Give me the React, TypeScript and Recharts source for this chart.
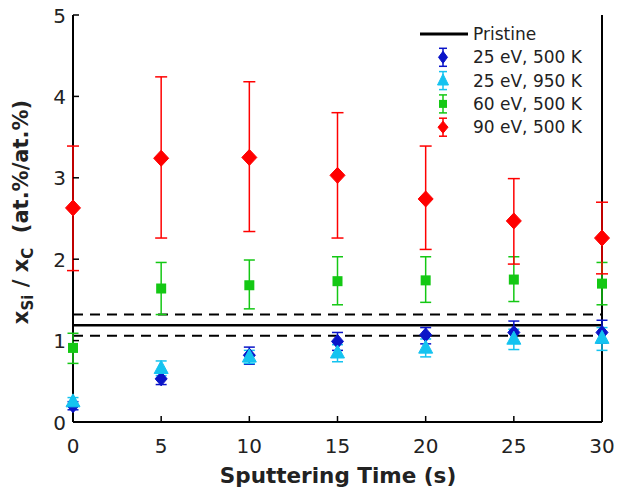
import React from 'react';
import { ComposedChart, Scatter, ErrorBar, XAxis, YAxis, ReferenceLine, Legend } from 'recharts';

const times = [0, 5, 10, 15, 20, 25, 30];
const xTicks = [0, 5, 10, 15, 20, 25, 30];
const yTicks = [0, 1, 2, 3, 4, 5];
const xMin = 0;
const xMax = 30;

const blueY = [0.2, 0.53, 0.82, 0.99, 1.07, 1.1, 1.1];
const blueLo = [0.15, 0.46, 0.71, 0.88, 0.96, 0.97, 0.97];
const blueHi = [0.25, 0.61, 0.92, 1.1, 1.16, 1.24, 1.25];

const cyanY = [0.25, 0.66, 0.8, 0.85, 0.91, 1.02, 1.03];
const cyanLo = [0.2, 0.57, 0.72, 0.74, 0.8, 0.89, 0.88];
const cyanHi = [0.3, 0.75, 0.88, 0.95, 1.02, 1.14, 1.16];

const greenY = [0.91, 1.64, 1.68, 1.73, 1.74, 1.75, 1.7];
const greenLo = [0.72, 1.32, 1.39, 1.44, 1.47, 1.48, 1.44];
const greenHi = [1.09, 1.96, 1.99, 2.03, 2.03, 2.03, 1.96];

const redY = [2.63, 3.24, 3.25, 3.03, 2.74, 2.47, 2.26];
const redLo = [1.86, 2.26, 2.34, 2.26, 2.12, 1.94, 1.82];
const redHi = [3.39, 4.24, 4.18, 3.8, 3.39, 2.99, 2.7];

const pristine = 1.19;
const pristineLow = 1.06;
const pristineHigh = 1.32;

const seriesNames = ['25 eV, 500 K', '25 eV, 950 K', '60 eV, 500 K', '90 eV, 500 K'];
const pristineName = 'Pristine';

const FONT = '"DejaVu Sans", sans-serif';
const BLUE = '#0a14c8';
const CYAN = '#14c3f0';
const GREEN = '#14c814';
const RED = '#ff0000';

const build = (ys: number[], lo: number[], hi: number[]) =>
  times.map((t, i) => ({ x: t, y: ys[i], err: [ys[i] - lo[i], hi[i] - ys[i]] }));

const blueData = build(blueY, blueLo, blueHi);
const cyanData = build(cyanY, cyanLo, cyanHi);
const greenData = build(greenY, greenLo, greenHi);
const redData = build(redY, redLo, redHi);

type MP = { cx?: number; cy?: number };

const diamond = (cx: number, cy: number, w: number, h: number, fill: string) => (
  <path d={`M${cx},${cy - h}L${cx + w},${cy}L${cx},${cy + h}L${cx - w},${cy}Z`} fill={fill} stroke={fill} strokeWidth={1} />
);
const triangle = (cx: number, cy: number, w: number, h: number, fill: string) => (
  <path d={`M${cx},${cy - h * 0.6}L${cx + w / 2},${cy + h * 0.4}L${cx - w / 2},${cy + h * 0.4}Z`} fill={fill} stroke={fill} strokeWidth={1} />
);
const square = (cx: number, cy: number, s: number, fill: string) => (
  <rect x={cx - s / 2} y={cy - s / 2} width={s} height={s} fill={fill} />
);

const BlueShape = (p: MP) => diamond(p.cx ?? 0, p.cy ?? 0, 6, 7, BLUE);
const CyanShape = (p: MP) => triangle(p.cx ?? 0, p.cy ?? 0, 14, 13, CYAN);
const GreenShape = (p: MP) => square(p.cx ?? 0, p.cy ?? 0, 10, GREEN);
const RedShape = (p: MP) => diamond(p.cx ?? 0, p.cy ?? 0, 7.5, 8, RED);

const BottomTick = (props: any) => {
  const { x, y, payload } = props;
  return (
    <g>
      <line x1={x} x2={x} y1={y} y2={y - 6} stroke="#000" strokeWidth={1.5} />
      <text x={x} y={y + 31} textAnchor="middle" fontSize={20} fontFamily={FONT} fill="#222">
        {payload.value}
      </text>
    </g>
  );
};
const TopTick = (props: any) => {
  const { x, y } = props;
  return <line x1={x} x2={x} y1={y} y2={y + 6} stroke="#000" strokeWidth={1.5} />;
};
const LeftTick = (props: any) => {
  const { x, y, payload } = props;
  return (
    <g>
      <line x1={x} x2={x + 6} y1={y} y2={y} stroke="#000" strokeWidth={1.5} />
      <text x={x - 7} y={y + 7.5} textAnchor="end" fontSize={20} fontFamily={FONT} fill="#222">
        {payload.value}
      </text>
    </g>
  );
};
const RightTick = (props: any) => {
  const { x, y } = props;
  return <line x1={x} x2={x - 6} y1={y} y2={y} stroke="#000" strokeWidth={1.5} />;
};

const XLabel = () => (
  <text x={338} y={483} textAnchor="middle" fontSize={21.5} fontWeight="bold" fontFamily={FONT} fill="#222">
    Sputtering Time (s)
  </text>
);

const YLabel = () => (
  <text
    transform="rotate(-90)"
    x={-212}
    y={28}
    textAnchor="middle"
    fontSize={21}
    fontWeight="bold"
    fontFamily={FONT}
    fill="#222"
  >
    x<tspan dy={5} fontSize={15}>Si</tspan>
    <tspan dy={-5}>{'\u00a0/\u00a0x'}</tspan>
    <tspan dy={5} fontSize={15}>C</tspan>
    <tspan dy={-5}>{'\u00a0\u00a0(at.%/at.%)'}</tspan>
  </text>
);

const legendMarkers = [
  (cx: number, cy: number) => diamond(cx, cy, 4.5, 6, BLUE),
  (cx: number, cy: number) => triangle(cx, cy, 11, 11, CYAN),
  (cx: number, cy: number) => square(cx, cy, 8, GREEN),
  (cx: number, cy: number) => diamond(cx, cy, 5, 6, RED),
];
const legendColors = [BLUE, CYAN, GREEN, RED];

const LegendBox = () => {
  const row0 = 14;
  const step = 23.3;
  return (
    <svg width={200} height={125} style={{ display: 'block', overflow: 'visible' }}>
      <line x1={10} x2={58} y1={row0} y2={row0} stroke="#000" strokeWidth={3} />
      <text x={63} y={row0 + 6} fontSize={17} fontFamily={FONT} fill="#222">
        {pristineName}
      </text>
      {seriesNames.map((name, i) => {
        const cy = row0 + step * (i + 1);
        const c = legendColors[i];
        return (
          <g key={name}>
            <line x1={33} x2={33} y1={cy - 9} y2={cy + 9} stroke={c} strokeWidth={1.5} />
            <line x1={29} x2={37} y1={cy - 9} y2={cy - 9} stroke={c} strokeWidth={1.5} />
            <line x1={29} x2={37} y1={cy + 9} y2={cy + 9} stroke={c} strokeWidth={1.5} />
            {legendMarkers[i](33, cy)}
            <text x={63} y={cy + 6} fontSize={17} fontFamily={FONT} fill="#222">
              {name}
            </text>
          </g>
        );
      })}
    </svg>
  );
};

export default function App() {
  return (
    <div style={{ position: 'absolute', left: 0, top: 0, width: 617, height: 494, background: '#fff' }}>
      <ComposedChart width={617} height={494} margin={{ top: 15, right: 15, bottom: 0, left: 0 }} style={{ fontFamily: FONT }}>
        <XAxis
          xAxisId="b"
          dataKey="x"
          type="number"
          domain={[xMin, xMax]}
          ticks={xTicks}
          height={72}
          tickSize={0}
          tickMargin={0}
          tickLine={false}
          tick={BottomTick}
          axisLine={{ stroke: '#000', strokeWidth: 2 }}
          label={<XLabel />}
        />
        <XAxis
          xAxisId="t"
          orientation="top"
          type="number"
          domain={[xMin, xMax]}
          ticks={xTicks}
          allowDataOverflow
          height={0}
          tickSize={0}
          tickMargin={0}
          tickLine={false}
          tick={TopTick}
          axisLine={{ stroke: '#000', strokeWidth: 2 }}
        />
        <YAxis
          yAxisId="l"
          type="number"
          domain={[0, 5]}
          ticks={yTicks}
          width={73}
          tickSize={0}
          tickMargin={0}
          tickLine={false}
          tick={LeftTick}
          axisLine={false}
          label={<YLabel />}
        />
        <YAxis
          yAxisId="r"
          orientation="right"
          type="number"
          domain={[0, 5]}
          ticks={yTicks}
          allowDataOverflow
          width={0}
          tickSize={0}
          tickMargin={0}
          tickLine={false}
          tick={RightTick}
          axisLine={false}
        />
        <ReferenceLine xAxisId="b" yAxisId="l" x={xMin} stroke="#000" strokeWidth={2} />
        <ReferenceLine xAxisId="b" yAxisId="l" x={xMax} stroke="#000" strokeWidth={2} />
        <ReferenceLine xAxisId="b" yAxisId="l" y={pristineHigh} stroke="#000" strokeWidth={2} strokeDasharray="10 7" />
        <ReferenceLine xAxisId="b" yAxisId="l" y={pristine} stroke="#000" strokeWidth={2.5} />
        <ReferenceLine xAxisId="b" yAxisId="l" y={pristineLow} stroke="#000" strokeWidth={2} strokeDasharray="10 7" />
        <Scatter xAxisId="b" yAxisId="l" name={seriesNames[0]} data={blueData} dataKey="y" shape={BlueShape} isAnimationActive={false}>
          <ErrorBar dataKey="err" direction="y" width={5.5} stroke={BLUE} strokeWidth={1.5} isAnimationActive={false} />
        </Scatter>
        <Scatter xAxisId="b" yAxisId="l" name={seriesNames[1]} data={cyanData} dataKey="y" shape={CyanShape} isAnimationActive={false}>
          <ErrorBar dataKey="err" direction="y" width={5.5} stroke={CYAN} strokeWidth={1.5} isAnimationActive={false} />
        </Scatter>
        <Scatter xAxisId="b" yAxisId="l" name={seriesNames[2]} data={greenData} dataKey="y" shape={GreenShape} isAnimationActive={false}>
          <ErrorBar dataKey="err" direction="y" width={5.5} stroke={GREEN} strokeWidth={1.5} isAnimationActive={false} />
        </Scatter>
        <Scatter xAxisId="b" yAxisId="l" name={seriesNames[3]} data={redData} dataKey="y" shape={RedShape} isAnimationActive={false}>
          <ErrorBar dataKey="err" direction="y" width={6} stroke={RED} strokeWidth={1.5} isAnimationActive={false} />
        </Scatter>
        <Legend
          layout="horizontal"
          verticalAlign="middle"
          align="center"
          content={LegendBox}
          wrapperStyle={{ left: 410, top: 20, width: 200, height: 125 }}
        />
      </ComposedChart>
    </div>
  );
}
